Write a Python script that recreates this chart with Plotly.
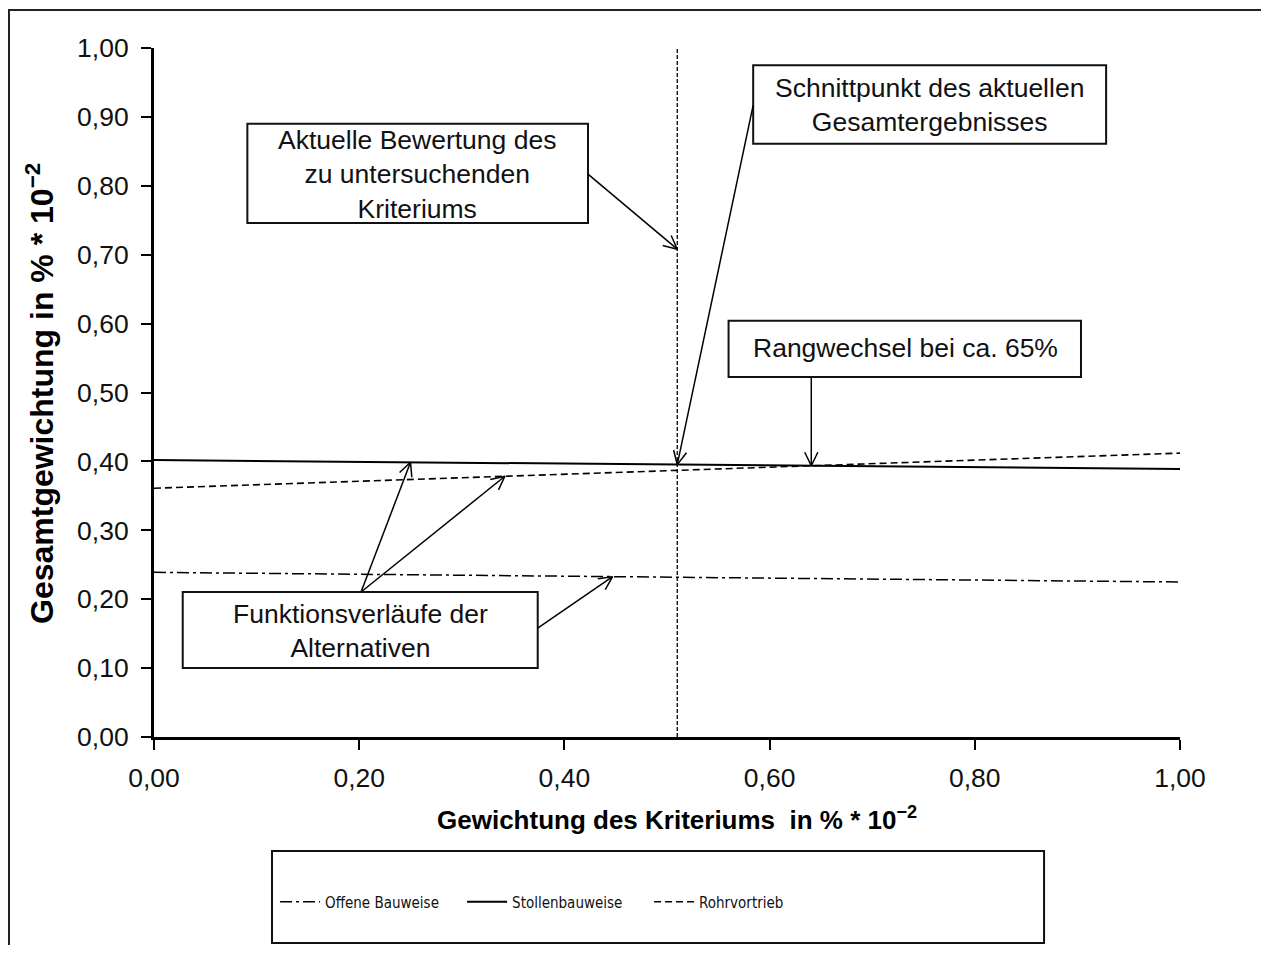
import math
import plotly.graph_objects as go

# ---- data ----
weights = [0.0, 1.0]                      # Gewichtung des Kriteriums
offene_bauweise = [0.239, 0.225]
stollenbauweise = [0.402, 0.389]
rohrvortrieb = [0.361, 0.412]
current_weight = 0.51                     # aktuelle Bewertung des Kriteriums
tick_vals = [0.0, 0.2, 0.4, 0.6, 0.8, 1.0]
y_tick_vals = [0.0, 0.1, 0.2, 0.3, 0.4, 0.5, 0.6, 0.7, 0.8, 0.9, 1.0]

FONT = "Liberation Sans, Arial, sans-serif"
NARROW = "DejaVu Sans Condensed, Liberation Sans, sans-serif"
OFF = 8                                   # page body margin
W, H = 1269 - 2 * OFF, 953 - 2 * OFF
# plot area in page pixels
PL, PR, PT, PB = 154, 1180, 48, 737
PW, PH = PR - PL, PB - PT
L, T = PL - OFF, PT - OFF
R, B = W - (PR - OFF), H - (PB - OFF)


def lin(series, x):
    return series[0] + (series[1] - series[0]) * (x - weights[0]) / (weights[1] - weights[0])


fig = go.Figure()
fig.add_trace(go.Scatter(x=weights, y=offene_bauweise, mode="lines", name="Offene Bauweise",
                         line=dict(color="black", width=1.5, dash="12px,4px,3px,4px")))
fig.add_trace(go.Scatter(x=weights, y=stollenbauweise, mode="lines", name="Stollenbauweise",
                         line=dict(color="black", width=2)))
fig.add_trace(go.Scatter(x=weights, y=rohrvortrieb, mode="lines", name="Rohrvortrieb",
                         line=dict(color="black", width=1.6, dash="7px,4px")))

shapes = []
annotations = []

# vertical line at current weight
shapes.append(dict(type="line", xref="x", yref="y", x0=current_weight, x1=current_weight, y0=0, y1=1,
                   line=dict(color="black", width=1.3, dash="4px,2px"), layer="above"))


def to_px(x, y):
    return PL + x * PW, PB - y * PH


def to_data(px, py):
    return (px - PL) / PW, (PB - py) / PH


def arrow(tail, head, length=15, ang=26):
    shapes.append(dict(type="line", xref="x", yref="y", x0=tail[0], y0=tail[1], x1=head[0], y1=head[1],
                       line=dict(color="black", width=1.5), layer="above"))
    tx, ty = to_px(*tail)
    hx, hy = to_px(*head)
    dx, dy = tx - hx, ty - hy
    n = math.hypot(dx, dy)
    dx, dy = dx / n, dy / n
    for s in (1, -1):
        a = math.radians(ang) * s
        rx = dx * math.cos(a) - dy * math.sin(a)
        ry = dx * math.sin(a) + dy * math.cos(a)
        ex, ey = to_data(hx + rx * length, hy + ry * length)
        shapes.append(dict(type="line", xref="x", yref="y", x0=head[0], y0=head[1], x1=ex, y1=ey,
                           line=dict(color="black", width=1.5), layer="above"))


def box(x0, x1, y0, y1, text, cx, cy):
    shapes.append(dict(type="rect", xref="x", yref="y", x0=x0, x1=x1, y0=y0, y1=y1,
                       line=dict(color="#111", width=2), fillcolor="white", layer="above"))
    annotations.append(dict(x=cx, y=cy, xref="x", yref="y", text=text, showarrow=False,
                            xanchor="center", yanchor="middle",
                            font=dict(family=FONT, size=26.5, color="#111"), align="center"))


# crossing of Stollenbauweise and Rohrvortrieb
s_slope = stollenbauweise[1] - stollenbauweise[0]
r_slope = rohrvortrieb[1] - rohrvortrieb[0]
x_cross = (stollenbauweise[0] - rohrvortrieb[0]) / (r_slope - s_slope)

box(0.091, 0.423, 0.746, 0.890, "Aktuelle Bewertung des<br>zu untersuchenden<br>Kriteriums", 0.2563, 0.8157)
box(0.584, 0.928, 0.861, 0.975, "Schnittpunkt des aktuellen<br>Gesamtergebnisses", 0.7554, 0.917)
box(0.560, 0.9035, 0.5225, 0.604, "Rangwechsel bei ca. 65%", 0.732, 0.5646)
box(0.028, 0.374, 0.100, 0.2105, "Funktionsverläufe der<br>Alternativen", 0.2008, 0.1538)

arrow((0.423, 0.817), (current_weight, 0.708))
arrow((0.584, 0.917), (current_weight, lin(stollenbauweise, current_weight)))
arrow((x_cross, 0.5225), (x_cross, lin(stollenbauweise, x_cross)))
arrow((0.2018, 0.2105), (0.25, lin(stollenbauweise, 0.25)))
arrow((0.2018, 0.2105), (0.342, lin(rohrvortrieb, 0.342)))
arrow((0.374, 0.158), (0.447, lin(offene_bauweise, 0.447)))

# legend box
shapes.append(dict(type="rect", xref="paper", yref="paper", x0=0.115, x1=0.8675, y0=-0.1655, y1=-0.299,
                   line=dict(color="#111", width=2), fillcolor="rgba(0,0,0,0)"))
# outer frame (left and top visible)
fx0, fy0 = to_data(OFF + 1, OFF + 2)
fx1, fy1 = to_data(1269 + 20, 953 + 20)
shapes.append(dict(type="rect", xref="paper", yref="paper", x0=fx0, x1=fx1, y0=fy1, y1=fy0,
                   line=dict(color="#222", width=2), fillcolor="rgba(0,0,0,0)", layer="below"))

# axis titles
xt = to_data(677, 818)
annotations.append(dict(x=xt[0], y=xt[1], xref="paper", yref="paper", xanchor="center", yanchor="middle",
                        text="<b>Gewichtung des Kriteriums  in % * 10<sup>−2</sup></b>", showarrow=False,
                        font=dict(family=FONT, size=26, color="black")))
yt = to_data(40, 394)
annotations.append(dict(x=yt[0], y=yt[1], xref="paper", yref="paper", xanchor="center", yanchor="middle",
                        text="<b>Gesamtgewichtung in % * 10<sup>−2</sup></b>", showarrow=False, textangle=-90,
                        font=dict(family=FONT, size=32, color="black")))

axis_common = dict(showgrid=False, zeroline=False, showline=True, linecolor="black", linewidth=3,
                   ticks="outside", ticklen=10, tickwidth=2, tickcolor="black", tickformat=".2f",
                   tickfont=dict(family=FONT, size=26.5, color="#111"), range=[0, 1])

fig.update_layout(
    width=W, height=H,
    margin=dict(l=L, r=R, t=T, b=B, pad=0),
    paper_bgcolor="white", plot_bgcolor="white",
    separators=",.",
    xaxis=dict(**axis_common, tickvals=tick_vals, ticklabelstandoff=5),
    yaxis=dict(**axis_common, tickvals=y_tick_vals, ticklabelstandoff=7),
    shapes=shapes, annotations=annotations,
    showlegend=True,
    legend=dict(orientation="h", x=0.118, xanchor="left", y=-0.2395, yanchor="middle",
                font=dict(family=NARROW, size=15, color="#111"), bgcolor="rgba(0,0,0,0)",
                entrywidth=132, entrywidthmode="pixels", itemwidth=40),
)

fig.write_html("out.html")
